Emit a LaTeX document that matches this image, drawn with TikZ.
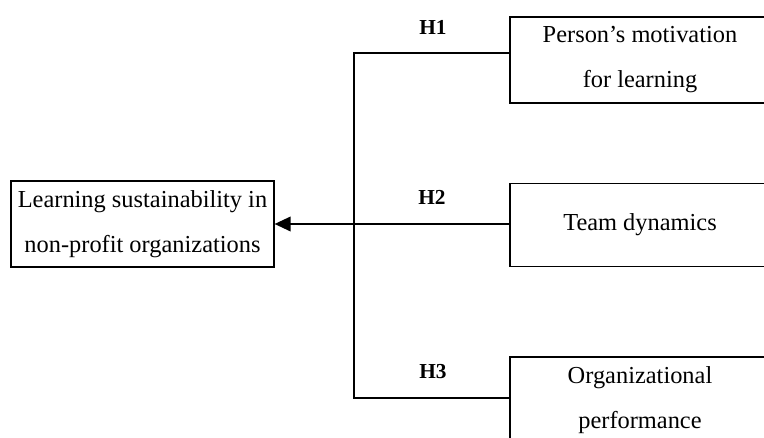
\documentclass[tikz,border=0pt]{standalone}
\usepackage{fontspec}
\setmainfont{Liberation Serif}
\usetikzlibrary{arrows.meta}
\usetikzlibrary{positioning}

\begin{document}
\begin{tikzpicture}[x=0.75pt, y=-0.75pt, >={Triangle[length=12pt,width=11pt]},
	factorbox/.style={draw, line width=1.2pt, minimum width=195pt, minimum height=64.5pt, inner sep=0pt, align=center, font=\fontsize{18.3}{33.75}\selectfont},
	hyplabel/.style={font=\fontsize{16}{18}\selectfont\bfseries},
	link/.style={line width=1.2pt}]
	\def\TreeX{354}
	\def\BoxX{640}
	%%%%%%%%%%%%%%%%%%%%%%%%%%%%%%%%%%%%%%%%%%%%%%%%%%%%%%%%%%
	\clip (0,0) rectangle (764,438);
	
	% outcome box
	\node[factorbox, minimum width=197pt] (outcome) at (142.5,224) {Learning sustainability in\\non-profit organizations};
	
	% factor boxes
	\node[factorbox] (motivation) at (\BoxX,60) {Person's motivation\\for learning};
	\node[factorbox, minimum height=62pt] (team) at (\BoxX,225) {Team dynamics};
	\node[factorbox] (orgperf) at (\BoxX,400) {Organizational\\performance};
	
	% hypothesis labels
	\node[hyplabel] (h1) at (433,27) {H1};
	\node[hyplabel] (h2) at (432,197) {H2};
	\node[hyplabel] (h3) at (433,372) {H3};
	
	% joints of the bracket
	\coordinate (top) at (\TreeX,53);
	\coordinate (bottom) at (\TreeX,398);
	
	% bracket
	\draw[link] (motivation.west |- top) -- (top) -- (bottom) -- (orgperf.west |- bottom);
	
	% main arrow
	\draw[link,->] (team.west |- outcome.east) -- (outcome.east);
	
\end{tikzpicture}
\end{document}
